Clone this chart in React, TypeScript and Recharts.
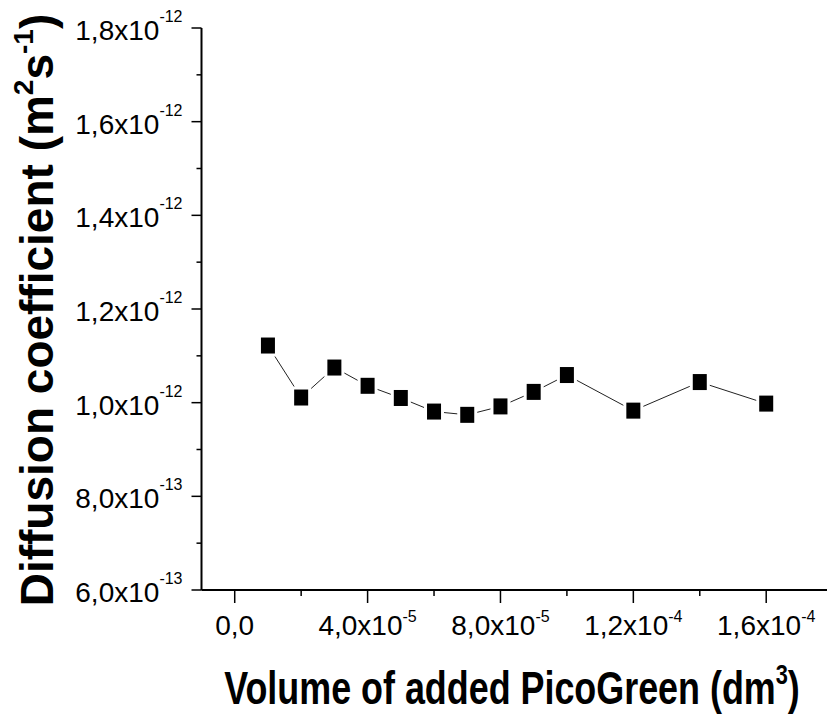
import { Line, LineChart, XAxis, YAxis } from "recharts";

// volume of added PicoGreen, in units of 1e-5 dm3
const volume = [1, 2, 3, 4, 5, 6, 7, 8, 9, 10, 12, 14, 16];
// diffusion coefficient, in units of 1e-12 m2/s
const diffusion = [1.122, 1.011, 1.075, 1.036, 1.01, 0.981, 0.974, 0.992, 1.023, 1.059, 0.983, 1.044, 0.998];

const xMajorTicks = [0, 4, 8, 12, 16];
const xMinorTicks = [2, 6, 10, 14];
const xTickMantissa = ["0,0", "4,0", "8,0", "1,2", "1,6"];
const xTickExp = ["", "-5", "-5", "-4", "-4"];

const yMajorTicks = [0.6, 0.8, 1.0, 1.2, 1.4, 1.6, 1.8];
const yMinorTicks = [0.7, 0.9, 1.1, 1.3, 1.5, 1.7];
const yTickMantissa = ["6,0", "8,0", "1,0", "1,2", "1,4", "1,6", "1,8"];
const yTickExp = ["-13", "-13", "-12", "-12", "-12", "-12", "-12"];

const data = volume.map((v, i) => ({ x: v, y: diffusion[i] }));

const font = "'Liberation Sans', Arial, sans-serif";

const findTick = (list: number[], v: number) => list.findIndex((t) => Math.abs(t - v) < 1e-6);

const XTick = (props: any) => {
	const { x, y, payload } = props;
	const i = findTick(xMajorTicks, payload.value);
	if (i < 0) return <line x1={x} x2={x} y1={y} y2={y + 6} stroke="#000" strokeWidth={1.5} />;
	return (
		<g>
			<line x1={x} x2={x} y1={y} y2={y + 13} stroke="#000" strokeWidth={1.5} />
			<text x={x} y={y + 45} textAnchor="middle" fontSize={28} fontFamily={font} fill="#000">
				{xTickExp[i] ? (
					<>
						<tspan>{xTickMantissa[i]}x10</tspan>
						<tspan dy={-13} fontSize={16}>{xTickExp[i]}</tspan>
					</>
				) : (
					xTickMantissa[i]
				)}
			</text>
		</g>
	);
};

const YTick = (props: any) => {
	const { x, y, payload } = props;
	const i = findTick(yMajorTicks, payload.value);
	if (i < 0) return <line x1={x - 5} x2={x} y1={y} y2={y} stroke="#000" strokeWidth={1.5} />;
	return (
		<g>
			<line x1={x - 10} x2={x} y1={y} y2={y} stroke="#000" strokeWidth={1.5} />
			<text x={x - 19} y={y + 12} textAnchor="end" fontSize={28} fontFamily={font} fill="#000">
				<tspan>{yTickMantissa[i]}x10</tspan>
				<tspan dy={-18} fontSize={16}>{yTickExp[i]}</tspan>
			</text>
		</g>
	);
};

const SquareDot = (props: any) => {
	const { cx, cy } = props;
	if (cx == null || cy == null) return null;
	return (
		<g>
			<rect x={cx - 10} y={cy - 11} width={20} height={22} fill="#fff" />
			<rect x={cx - 7} y={cy - 8} width={14} height={16} fill="#000" />
		</g>
	);
};

const App = () => {
	return (
		<div style={{ position: "absolute", left: 0, top: 0, width: 827, height: 715, background: "#fff", overflow: "hidden" }}>
			<LineChart width={827} height={715} data={data} margin={{ top: 28, right: 0, left: 0, bottom: 0 }}>
				<XAxis
					type="number"
					dataKey="x"
					domain={[-1, 17.83]}
					allowDataOverflow
					ticks={[...xMajorTicks, ...xMinorTicks].sort((a, b) => a - b)}
					tick={<XTick />}
					tickLine={false}
					tickSize={0}
					tickMargin={0}
					height={125}
					axisLine={{ stroke: "#000", strokeWidth: 2 }}
					interval={0}
				/>
				<YAxis
					type="number"
					domain={[0.6, 1.8]}
					allowDataOverflow
					ticks={[...yMajorTicks, ...yMinorTicks].sort((a, b) => a - b)}
					tick={<YTick />}
					tickLine={false}
					tickSize={0}
					tickMargin={0}
					width={201.5}
					axisLine={{ stroke: "#000", strokeWidth: 2 }}
					interval={0}
				/>
				<Line
					type="linear"
					dataKey="y"
					stroke="#222"
					strokeWidth={1}
					dot={<SquareDot />}
					activeDot={false}
					isAnimationActive={false}
				/>
			</LineChart>
			<svg width={827} height={715} style={{ position: "absolute", left: 0, top: 0, pointerEvents: "none" }}>
				<g transform="translate(512 704) scale(0.78 1)">
					<text x={0} y={0} textAnchor="middle" fontSize={46} fontWeight="bold" fontFamily={font} fill="#000">
						<tspan>Volume of added PicoGreen (dm</tspan>
						<tspan dy={-20} fontSize={28}>3</tspan>
						<tspan dy={20}>)</tspan>
					</text>
				</g>
				<g transform="translate(53 310) rotate(-90)">
					<text x={0} y={0} textAnchor="middle" fontSize={46} fontWeight="bold" fontFamily={font} fill="#000">
						<tspan>Diffusion coefficient (m</tspan>
						<tspan dy={-20} fontSize={28}>2</tspan>
						<tspan dy={20}>s</tspan>
						<tspan dy={-20} fontSize={28}>-1</tspan>
						<tspan dy={20}>)</tspan>
					</text>
				</g>
			</svg>
		</div>
	);
};

export default App;
